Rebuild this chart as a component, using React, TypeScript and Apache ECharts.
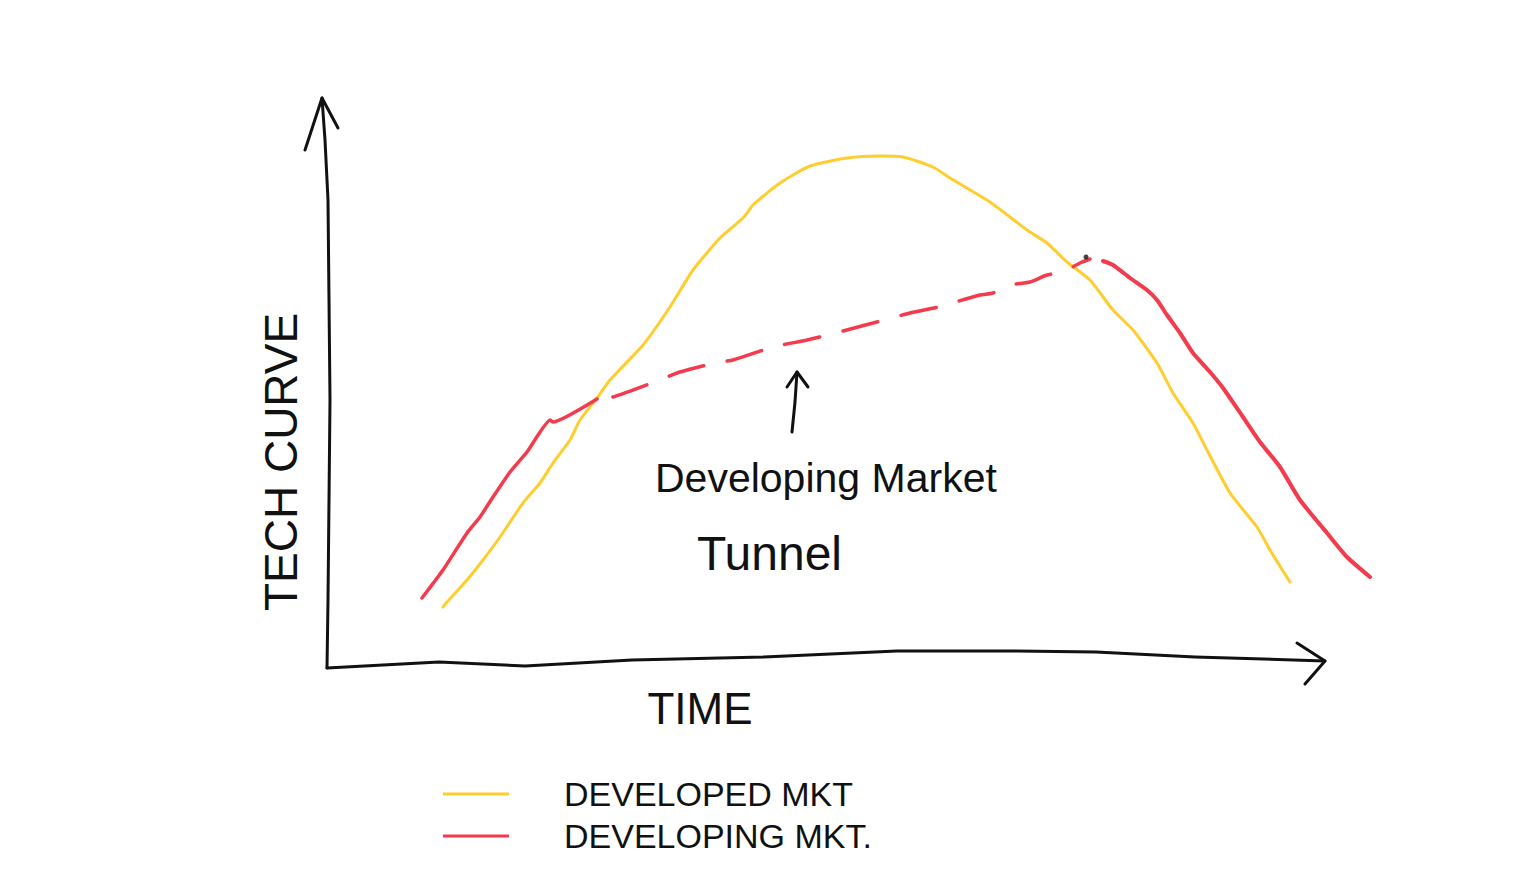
import React, { useEffect, useRef } from "react";
import * as echarts from "echarts";

// Values: [time, tech level] (origin at the axes' corner)
const developedMkt: [number, number][] = [
  [116, 61], [120, 66], [140, 88], [156, 108], [173, 131], [196, 165], [213, 185],
  [226, 205], [243, 228], [253, 248], [270, 270], [283, 288], [316, 323], [343, 361],
  [366, 398], [393, 430], [416, 450], [426, 463], [453, 485], [483, 502], [520, 510],
  [553, 512], [576, 511], [606, 501], [623, 490], [663, 466], [700, 438], [720, 425],
  [740, 406], [763, 388], [786, 358], [806, 338], [830, 305], [846, 275], [866, 245],
  [880, 218], [903, 175], [930, 141], [943, 118], [963, 86],
];

const developingRise: [number, number][] = [
  [95, 70], [116, 98], [140, 135], [153, 151], [166, 171], [183, 196], [200, 216],
  [223, 248], [226, 246], [270, 269],
];

const developingTunnel: [number, number][] = [
  [270, 269], [286, 271], [325, 285], [353, 296], [388, 305], [406, 308], [446, 321],
  [480, 328], [516, 337], [546, 345], [583, 355], [611, 361], [653, 373], [666, 375],
  [683, 383], [703, 386], [720, 393], [736, 396], [753, 405], [763, 409],
];

const developingDecline: [number, number][] = [
  [776, 407], [786, 403], [803, 390], [820, 378], [830, 368], [840, 353], [853, 335],
  [866, 315], [883, 296], [896, 280], [916, 251], [933, 226], [953, 201], [973, 168],
  [1000, 135], [1020, 111], [1043, 91],
];

const timeAxisLine: [number, number][] = [
  [0, 0], [112, 6], [198, 2], [305, 8], [437, 11], [570, 17], [689, 17], [769, 16],
  [868, 11], [998, 7],
];
const timeAxisArrow: [number, number][] = [[970, 25], [998, 7], [978, -16]];

const techAxisLine: [number, number][] = [
  [-5, 570], [-2, 528], [1, 468], [2, 368], [3, 268], [2, 168], [1, 68], [0, 0],
];
const techAxisArrow: [number, number][] = [[-22, 518], [-5, 570], [11, 540]];

const pointerShaft: [number, number][] = [[465, 236], [468, 266], [470, 296]];
const pointerHead: [number, number][] = [[460, 281], [470, 296], [481, 281]];
const penDot: [number, number][] = [[759, 411]];

const legendLabels = ["DEVELOPED MKT", "DEVELOPING MKT."];
const timeTitle = "TIME";
const techTitle = "TECH CURVE";
const annotationLines = ["Developing Market", "Tunnel"];

const YELLOW = "#FFCD2E";
const RED = "#F43B4D";
const INK = "#111111";
const FONT = "'Liberation Sans', 'DejaVu Sans', sans-serif";

function inkLine(name: string, data: [number, number][], width = 3) {
  return {
    name,
    type: "line",
    data,
    symbol: "none",
    clip: false,
    silent: true,
    lineStyle: { color: INK, width, cap: "round", join: "round" },
    z: 3,
  };
}

export default function App() {
  const ref = useRef<HTMLDivElement>(null);

  useEffect(() => {
    if (!ref.current) return;
    const chart = echarts.init(ref.current, undefined, { renderer: "svg" });
    chart.setOption({
      animation: false,
      backgroundColor: "#ffffff",
      // 1 unit = 1 px; origin of the sketch axes sits at page (327, 668)
      grid: { left: 227, top: 68, width: 1200, height: 650 },
      xAxis: { type: "value", min: -100, max: 1100, show: false },
      yAxis: { type: "value", min: -50, max: 600, show: false },
      legend: {
        orient: "vertical",
        left: 443,
        top: 773,
        padding: 0,
        icon: "rect",
        itemWidth: 66,
        itemHeight: 3,
        itemGap: 0,
        selectedMode: false,
        data: legendLabels.map((n) => ({ name: n })),
        textStyle: {
          fontFamily: FONT,
          fontSize: 34,
          color: INK,
          lineHeight: 42,
          padding: [0, 0, 0, 50],
        },
      },
      series: [
        inkLine("time-axis", timeAxisLine),
        inkLine("time-arrow", timeAxisArrow),
        inkLine("tech-axis", techAxisLine),
        inkLine("tech-arrow", techAxisArrow),
        inkLine("pointer", pointerShaft),
        inkLine("pointer-head", pointerHead),
        {
          name: legendLabels[0],
          type: "line",
          data: developedMkt,
          smooth: 0.2,
          symbol: "none",
          silent: true,
          color: YELLOW,
          lineStyle: { color: YELLOW, width: 3, cap: "round", join: "round" },
          z: 2,
        },
        {
          name: legendLabels[1],
          type: "line",
          data: developingRise,
          smooth: 0.15,
          symbol: "none",
          silent: true,
          color: RED,
          lineStyle: { color: RED, width: 3.5, cap: "round", join: "round" },
          z: 2,
        },
        {
          name: legendLabels[1],
          type: "line",
          data: developingTunnel,
          smooth: 0.2,
          symbol: "none",
          silent: true,
          color: RED,
          lineStyle: {
            color: RED,
            width: 3.5,
            cap: "round",
            type: [36, 24],
            dashOffset: 44,
          },
          z: 2,
        },
        {
          name: legendLabels[1],
          type: "line",
          data: developingDecline,
          smooth: 0.2,
          symbol: "none",
          silent: true,
          color: RED,
          lineStyle: { color: RED, width: 4, cap: "round", join: "round" },
          z: 2,
        },
        {
          name: "pen-dot",
          type: "scatter",
          data: penDot,
          symbolSize: 5,
          silent: true,
          itemStyle: { color: INK },
          z: 4,
        },
      ],
      graphic: [
        {
          type: "text",
          x: 281,
          y: 462,
          rotation: Math.PI / 2,
          silent: true,
          style: {
            text: techTitle,
            font: `46px ${FONT}`,
            fill: INK,
            align: "center",
            verticalAlign: "middle",
          },
        },
        {
          type: "text",
          x: 700,
          y: 708,
          silent: true,
          style: {
            text: timeTitle,
            font: `44px ${FONT}`,
            fill: INK,
            align: "center",
            verticalAlign: "middle",
          },
        },
        {
          type: "text",
          x: 655,
          y: 478,
          silent: true,
          style: {
            text: annotationLines[0],
            font: `41px ${FONT}`,
            fill: INK,
            align: "left",
            verticalAlign: "middle",
          },
        },
        {
          type: "text",
          x: 697,
          y: 553,
          silent: true,
          style: {
            text: annotationLines[1],
            font: `48px ${FONT}`,
            fill: INK,
            align: "left",
            verticalAlign: "middle",
          },
        },
      ],
    });
    return () => chart.dispose();
  }, []);

  return (
    <div
      ref={ref}
      style={{ position: "fixed", left: 0, top: 0, width: 1536, height: 884, background: "#fff" }}
    />
  );
}
